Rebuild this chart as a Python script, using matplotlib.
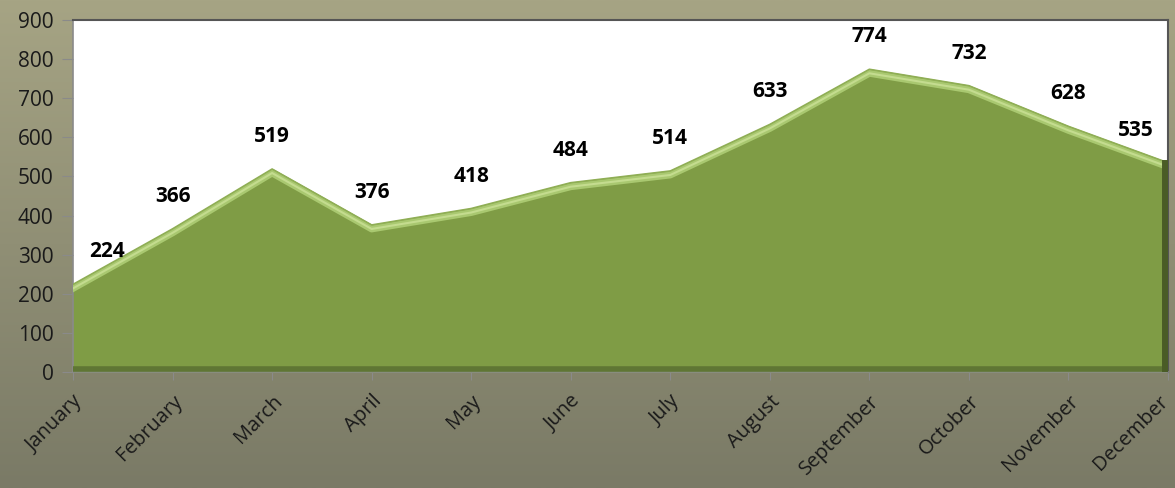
import numpy as np
import matplotlib
matplotlib.use("Agg")
import matplotlib.pyplot as plt
import matplotlib.transforms as mtransforms

months = ["January", "February", "March", "April", "May", "June",
          "July", "August", "September", "October", "November", "December"]
values = [224, 366, 519, 376, 418, 484, 514, 633, 774, 732, 628, 535]
yticks = [0, 100, 200, 300, 400, 500, 600, 700, 800, 900]

plt.rcParams["font.family"] = ["Open Sans", "DejaVu Sans"]

fig = plt.figure(figsize=(11.75, 4.88), dpi=100)

# olive gradient background
bg = fig.add_axes([0, 0, 1, 1], zorder=-10)
grad = np.linspace(0, 1, 256).reshape(-1, 1)
top = np.array([166, 164, 132]) / 255
bot = np.array([122, 122, 102]) / 255
img = top[None, None, :] * (1 - grad[:, :, None]) + bot[None, None, :] * grad[:, :, None]
bg.imshow(img, aspect="auto", extent=[0, 1, 0, 1])
bg.axis("off")

ax = fig.add_axes([73 / 1175, (488 - 372) / 488, (1168 - 73) / 1175, (372 - 20) / 488])
ax.set_facecolor("white")

x = np.arange(len(months))
ax.fill_between(x, values, 0, color="#7f9c45", zorder=2)

# bevel: light edge along the top, dark edges on bottom/right
down = mtransforms.offset_copy(ax.transData, fig=fig, y=-4, units="dots")
ax.plot(x, values, color="#a9c870", lw=5, transform=down, zorder=3)
ax.plot(x, values, color="#c4dc8f", lw=1.5, transform=down, zorder=3)
ax.plot(x, values, color="#8fae55", lw=1.2, zorder=3)
up = mtransforms.offset_copy(ax.transData, fig=fig, y=3, units="dots")
ax.plot([x[0], x[-1]], [0, 0], color="#5f7634", lw=4, transform=up, zorder=3)
left = mtransforms.offset_copy(ax.transData, fig=fig, x=-3, units="dots")
ax.plot([x[-1], x[-1]], [0, values[-1]], color="#4a5c26", lw=5, transform=left, zorder=3)

for i, v in enumerate(values):
    dx = 0
    if i == 0:
        dx = 34
    elif i == len(values) - 1:
        dx = -32
    ax.annotate(str(v), (x[i], v), xytext=(dx, 22), textcoords="offset pixels",
                ha="center", va="bottom", fontsize=15, fontweight="bold",
                color="black", zorder=5)

ax.set_xlim(x[0], x[-1])
ax.set_ylim(0, 900)
ax.set_yticks(yticks)
ax.set_yticklabels([str(t) for t in yticks], fontsize=15, color="#1a1a1a")
ax.set_xticks(x)
ax.set_xticklabels(months, rotation=45, ha="right", rotation_mode="anchor",
                   fontsize=14.5, color="#1a1a1a")
ax.tick_params(axis="y", length=8, color="#8a8a8a", pad=6)
ax.tick_params(axis="x", length=6, color="#8a8a8a", pad=8)

# keep the last month label inside the figure
last = ax.get_xticklabels()[-1]
last.set_transform(last.get_transform() +
                   mtransforms.ScaledTranslation(-10 / 100, 0, fig.dpi_scale_trans))

for side in ["left", "bottom"]:
    ax.spines[side].set_color("#8a8a8a")
    ax.spines[side].set_linewidth(1.2)
for side in ["top", "right"]:
    ax.spines[side].set_color("#555555")
    ax.spines[side].set_linewidth(1.5)

fig.savefig("out.png", dpi=100)
